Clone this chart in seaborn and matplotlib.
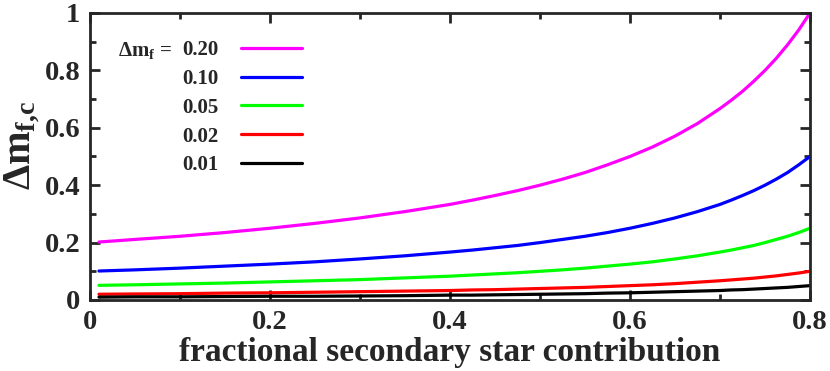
import pandas as pd
import seaborn as sns
import matplotlib.pyplot as plt
from matplotlib.ticker import MultipleLocator, FuncFormatter

# fractional secondary star contribution (x) and corrected amplitude per curve
frac = [0.01, 0.05, 0.10, 0.15, 0.20, 0.25, 0.30, 0.35, 0.40, 0.425,
        0.45, 0.475, 0.50, 0.525, 0.55, 0.575, 0.60, 0.625, 0.65, 0.675,
        0.70, 0.7125, 0.725, 0.7375, 0.75, 0.7625, 0.775, 0.7875, 0.80]
dm_020 = [0.202, 0.211, 0.222, 0.235, 0.250, 0.267, 0.286, 0.308, 0.333, 0.348,
          0.364, 0.381, 0.400, 0.421, 0.444, 0.471, 0.500, 0.533, 0.571, 0.615,
          0.667, 0.696, 0.727, 0.762, 0.800, 0.842, 0.889, 0.941, 1.000]
dm_010 = [0.101, 0.105, 0.111, 0.118, 0.125, 0.133, 0.143, 0.154, 0.167, 0.174,
          0.182, 0.190, 0.200, 0.211, 0.222, 0.235, 0.250, 0.267, 0.286, 0.308,
          0.333, 0.348, 0.364, 0.381, 0.400, 0.421, 0.444, 0.471, 0.500]
dm_005 = [0.051, 0.053, 0.056, 0.059, 0.063, 0.067, 0.071, 0.077, 0.083, 0.087,
          0.091, 0.095, 0.100, 0.105, 0.111, 0.118, 0.125, 0.133, 0.143, 0.154,
          0.167, 0.174, 0.182, 0.190, 0.200, 0.211, 0.222, 0.235, 0.250]
dm_002 = [0.020, 0.021, 0.022, 0.024, 0.025, 0.027, 0.029, 0.031, 0.033, 0.035,
          0.036, 0.038, 0.040, 0.042, 0.044, 0.047, 0.050, 0.053, 0.057, 0.062,
          0.067, 0.070, 0.073, 0.076, 0.080, 0.084, 0.089, 0.094, 0.100]
dm_001 = [0.010, 0.011, 0.011, 0.012, 0.013, 0.013, 0.014, 0.015, 0.017, 0.017,
          0.018, 0.019, 0.020, 0.021, 0.022, 0.024, 0.025, 0.027, 0.029, 0.031,
          0.033, 0.035, 0.036, 0.038, 0.040, 0.042, 0.044, 0.047, 0.050]

labels = ["0.20", "0.10", "0.05", "0.02", "0.01"]
series = [dm_020, dm_010, dm_005, dm_002, dm_001]
colors = ["#ff00ff", "#0000ff", "#00ff00", "#ff0000", "#000000"]

rows = []
for lab, vals in zip(labels, series):
    for x, y in zip(frac, vals):
        rows.append({"frac": x, "dm": y, "dmf": lab})
df = pd.DataFrame(rows)

sns.set_style("ticks")
plt.rcParams["font.family"] = ["Liberation Serif", "DejaVu Serif"]
plt.rcParams["font.weight"] = "bold"
plt.rcParams["mathtext.fontset"] = "custom"
plt.rcParams["mathtext.rm"] = "Liberation Serif:bold"
plt.rcParams["mathtext.it"] = "Liberation Serif:bold"
plt.rcParams["mathtext.bf"] = "Liberation Serif:bold"

fig = plt.figure(figsize=(8.3, 3.71), dpi=100)
ax = fig.add_axes([0.1084, 0.1914, 0.8675, 0.7736])

sns.lineplot(data=df, x="frac", y="dm", hue="dmf", hue_order=labels,
             palette=colors, linewidth=2.3, legend=False, ax=ax)

ax.set_xlim(0, 0.8)
ax.set_ylim(0, 1)
ax.xaxis.set_major_locator(MultipleLocator(0.2))
ax.xaxis.set_minor_locator(MultipleLocator(0.1))
ax.yaxis.set_major_locator(MultipleLocator(0.2))
ax.yaxis.set_minor_locator(MultipleLocator(0.1))
fmt = FuncFormatter(lambda v, p: f"{v:g}")
ax.xaxis.set_major_formatter(fmt)
ax.yaxis.set_major_formatter(fmt)
ax.tick_params(which="both", direction="in", top=True, right=True, width=2,
               labelsize=20.5, pad=7)
ax.tick_params(which="major", length=7)
ax.tick_params(which="minor", length=4.5)
for s in ax.spines.values():
    s.set_linewidth(2)

ax.set_xlabel("fractional secondary star contribution", fontsize=24,
              fontweight="bold", labelpad=2)
ax.set_ylabel(r"$\Delta m_{f{,}c}$", fontsize=29)
ax.yaxis.set_label_coords(-0.066, 0.54)

leg = ax.legend(ax.lines, labels, loc="upper left", bbox_to_anchor=(0.128, 0.905),
                frameon=False, markerfirst=False, fontsize=15, handlelength=2.9,
                handletextpad=1.1, labelspacing=0.42, borderpad=0, borderaxespad=0)
ax.text(0.114, 0.87, r"$\Delta m_f$ =", transform=ax.transAxes, fontsize=15,
        ha="right", va="center")

plt.savefig("out.png", dpi=100)
